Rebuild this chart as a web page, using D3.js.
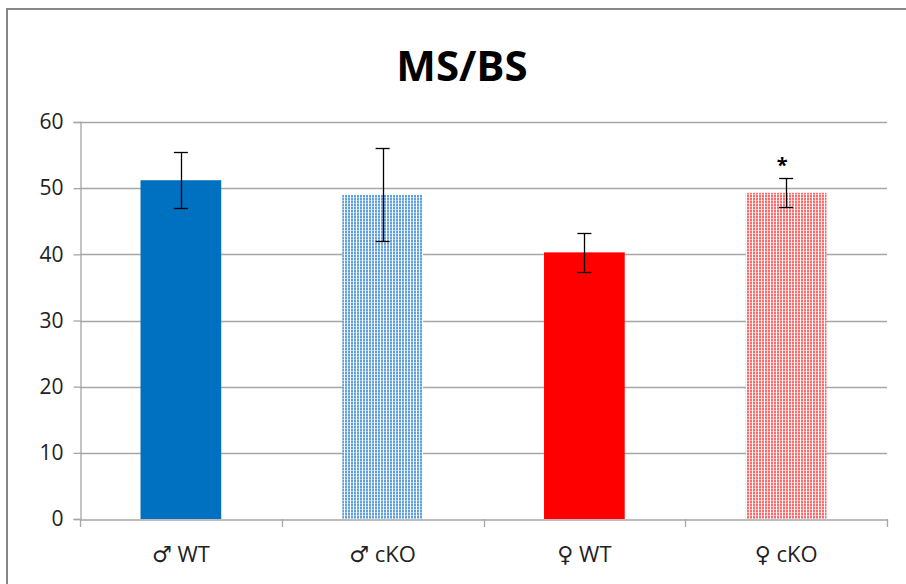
<!DOCTYPE html>
<html>
<head>
<meta charset="utf-8">
<script src="https://cdn.jsdelivr.net/npm/d3@7"></script>
<style>
  html, body { margin: 0; padding: 0; background: #fff; }
  svg { display: block; }
</style>
</head>
<body>
<svg id="chart" width="906" height="584"></svg>
<script>
// MS/BS by sex and genotype
const categories = ["♂ WT", "♂ cKO", "♀ WT", "♀ cKO"];
const means = [51.2, 49.0, 40.3, 49.3];
const errors = [4.2, 7.0, 2.9, 2.2];
const significant = [false, false, false, true];
const yTicks = [0, 10, 20, 30, 40, 50, 60];

const svg = d3.select("#chart");
const margin = { left: 80, right: 19, top: 122, bottom: 65 };
const W = 906, H = 584;

// chart frame
svg.append("rect")
  .attr("x", 7).attr("y", 9).attr("width", 920).attr("height", 600)
  .attr("fill", "#fff").attr("stroke", "#868686").attr("stroke-width", 2);

// fill patterns for the knockout bars
const defs = svg.append("defs");
function dotPattern(id, color, light) {
  const p = defs.append("pattern").attr("id", id)
    .attr("patternUnits", "userSpaceOnUse").attr("width", 3).attr("height", 3);
  p.append("rect").attr("width", 3).attr("height", 3).attr("fill", "#fff");
  p.append("rect").attr("width", 2).attr("height", 3).attr("fill", light);
  p.append("rect").attr("width", 2).attr("height", 2).attr("fill", color);
}
dotPattern("dotBlue", "#5fa0e0", "#a9cbef");
dotPattern("dotRed", "#ff6a6a", "#ffb0b0");
const fills = ["#0070c0", "url(#dotBlue)", "#ff0000", "url(#dotRed)"];

const x = d3.scaleBand().domain(categories)
  .range([margin.left, W - margin.right]).paddingInner(0.6).paddingOuter(0.3);
const xb = d3.scaleBand().domain(categories)
  .range([margin.left, W - margin.right]);
const y = d3.scaleLinear().domain([0, 60]).range([H - margin.bottom, margin.top]);

// gridlines
svg.append("g").selectAll("line").data(yTicks.filter(d => d > 0)).join("line")
  .attr("x1", margin.left).attr("x2", W - margin.right)
  .attr("y1", d => Math.round(y(d)) + 0.5).attr("y2", d => Math.round(y(d)) + 0.5)
  .attr("stroke", "#a6a6a6").attr("stroke-width", 1.3);

// y axis
const yAxis = svg.append("g")
  .attr("transform", `translate(${margin.left + 0.5},0)`)
  .call(d3.axisLeft(y).tickValues(yTicks).tickSize(7).tickPadding(10));
yAxis.select(".domain").attr("stroke", "#a6a6a6").attr("stroke-width", 1.3);
yAxis.selectAll(".tick line").attr("stroke", "#a6a6a6").attr("stroke-width", 1.3);
yAxis.selectAll("text").attr("fill", "#222").attr("font-size", 21)
  .attr("font-family", "'Open Sans', sans-serif");

// bars
svg.append("g").selectAll("rect").data(categories).join("rect")
  .attr("x", d => x(d)).attr("width", x.bandwidth())
  .attr("y", (d, i) => y(means[i]))
  .attr("height", (d, i) => y(0) - y(means[i]))
  .attr("fill", (d, i) => fills[i]);

// x axis
const xAxis = svg.append("g")
  .attr("transform", `translate(0,${Math.round(y(0)) + 0.5})`)
  .call(d3.axisBottom(xb).tickSize(0).tickPadding(27));
xAxis.select(".domain").attr("stroke", "#a6a6a6").attr("stroke-width", 1.5);
xAxis.selectAll("text").attr("fill", "#222").attr("font-size", 22)
  .attr("font-family", "'Open Sans', 'DejaVu Sans', sans-serif");
// category dividers
svg.append("g").selectAll("line").data(categories.concat(["end"])).join("line")
  .attr("x1", (d, i) => Math.round(margin.left + i * xb.bandwidth()) + 0.5)
  .attr("x2", (d, i) => Math.round(margin.left + i * xb.bandwidth()) + 0.5)
  .attr("y1", y(0)).attr("y2", y(0) + 8)
  .attr("stroke", "#a6a6a6").attr("stroke-width", 1.3);

// error bars
const eb = svg.append("g").selectAll("g").data(categories).join("g")
  .attr("stroke", "#000").attr("stroke-width", 1.3);
eb.append("line")
  .attr("x1", d => Math.round(x(d) + x.bandwidth() / 2) + 0.5)
  .attr("x2", d => Math.round(x(d) + x.bandwidth() / 2) + 0.5)
  .attr("y1", (d, i) => y(means[i] + errors[i]))
  .attr("y2", (d, i) => y(means[i] - errors[i]));
["+", "-"].forEach(s => {
  eb.append("line")
    .attr("x1", d => x(d) + x.bandwidth() / 2 - 7)
    .attr("x2", d => x(d) + x.bandwidth() / 2 + 7)
    .attr("y1", (d, i) => Math.round(y(means[i] + (s === "+" ? 1 : -1) * errors[i])) + 0.5)
    .attr("y2", (d, i) => Math.round(y(means[i] + (s === "+" ? 1 : -1) * errors[i])) + 0.5);
});

// significance marks
svg.append("g").selectAll("text").data(categories.filter((d, i) => significant[i])).join("text")
  .attr("x", d => x(d) + x.bandwidth() / 2 - 4)
  .attr("y", d => { const i = categories.indexOf(d); return y(means[i] + errors[i]) - 6; })
  .attr("text-anchor", "middle").attr("font-size", 20).attr("font-weight", "bold")
  .attr("font-family", "'Open Sans', sans-serif").attr("fill", "#000")
  .text("*");

// title
svg.append("text")
  .attr("x", 462).attr("y", 81).attr("text-anchor", "middle")
  .attr("font-family", "'Open Sans', sans-serif").attr("font-weight", "bold")
  .attr("font-size", 42).attr("fill", "#000")
  .text("MS/BS");
</script>
</body>
</html>
